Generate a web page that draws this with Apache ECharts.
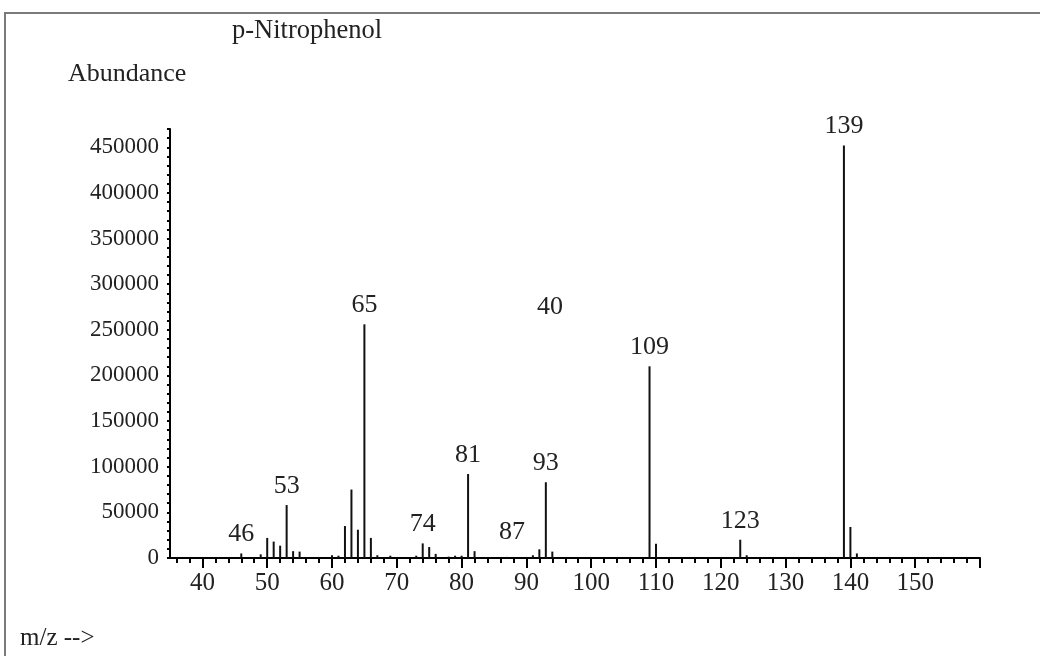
<!DOCTYPE html>
<html>
<head>
<meta charset="utf-8">
<script src="https://cdn.jsdelivr.net/npm/echarts@6/dist/echarts.min.js"></script>
<style>
  html, body { margin: 0; padding: 0; background: #fff; }
  #main { width: 1040px; height: 656px; }
</style>
</head>
<body>
<div id="main"></div>
<script>
// m/z values and abundance
var mz = [46, 49, 50, 51, 52, 53, 54, 55, 60, 61, 62, 63, 64, 65, 66, 67, 69,
          73, 74, 75, 76, 78, 79, 80, 81, 82, 87, 91, 92, 93, 94,
          109, 110, 123, 124, 139, 140, 141];
var abundance = [5000, 4000, 22000, 18000, 13500, 58000, 7500, 7000, 3000, 2500, 35000, 75000, 31000, 256000, 22000, 3000, 2500,
                 2500, 16000, 12000, 4500, 1500, 2500, 2500, 92000, 7500, 1200, 3000, 9500, 83000, 7000,
                 210000, 15500, 20000, 3000, 452000, 34000, 5000];
var labelled = [46, 53, 65, 74, 81, 87, 93, 109, 123, 139];

var xLabels = [40, 50, 60, 70, 80, 90, 100, 110, 120, 130, 140, 150];
var xMajorTicks = [40, 50, 60, 70, 80, 90, 100, 110, 120, 130, 140, 150, 160];
var xMinorTicks = [];
for (var i = 36; i <= 158; i += 2) xMinorTicks.push(i);
var yLabels = [0, 50000, 100000, 150000, 200000, 250000, 300000, 350000, 400000, 450000];
var yTicks = [];
for (var j = 0; j <= 470000; j += 10000) yTicks.push(j);

var serif = '"Liberation Serif", "DejaVu Serif", serif';

var peaks = mz.map(function (m, k) {
    var item = { value: [m, abundance[k]] };
    if (labelled.indexOf(m) >= 0) {
        item.label = { show: true };
        if (m === 87) item.label.offset = [5, -6];
    }
    return item;
});

var chart = echarts.init(document.getElementById('main'));
var option = {
    animation: false,
    backgroundColor: '#fff',
    grid: { left: 170, right: 60, top: 129, bottom: 98 },
    graphic: [
        { type: 'rect', shape: { x: 5, y: 13, width: 1200, height: 800 },
          style: { fill: 'none', stroke: '#7a7a7a', lineWidth: 2 } },
        { type: 'text', left: 232, top: 18,
          style: { text: 'p-Nitrophenol', font: '26.5px ' + serif, fill: '#222' } },
        { type: 'text', left: 68, top: 61,
          style: { text: 'Abundance', font: '26px ' + serif, fill: '#222' } },
        { type: 'text', left: 20, top: 626,
          style: { text: 'm/z -->', font: '25px ' + serif, fill: '#222' } },
        { type: 'text', left: 537, top: 294,
          style: { text: '40', font: '26px ' + serif, fill: '#222' } }
    ],
    xAxis: [
        {
            type: 'value', min: 35, max: 160, position: 'bottom',
            axisLine: { onZero: false, lineStyle: { color: '#000', width: 2 } },
            axisTick: { show: true, length: 10, customValues: xMajorTicks, lineStyle: { color: '#000', width: 2 } },
            axisLabel: { customValues: xLabels, fontSize: 25, fontFamily: serif, color: '#222', margin: 13 },
            splitLine: { show: false }
        },
        {
            type: 'value', min: 35, max: 160, position: 'bottom',
            axisLine: { show: false },
            axisTick: { show: true, length: 5, customValues: xMinorTicks, lineStyle: { color: '#000', width: 2 } },
            axisLabel: { show: false },
            splitLine: { show: false }
        }
    ],
    yAxis: {
        type: 'value', min: 0, max: 470000,
        axisLine: { show: true, lineStyle: { color: '#000', width: 2 } },
        axisTick: { show: true, length: 3, customValues: yTicks, lineStyle: { color: '#000', width: 2 } },
        axisLabel: {
            customValues: yLabels, fontSize: 23, fontFamily: serif, color: '#222', margin: 11,
            formatter: function (v) { return String(v); }
        },
        splitLine: { show: false }
    },
    series: [{
        type: 'bar',
        xAxisIndex: 0,
        barWidth: 2,
        itemStyle: { color: '#111' },
        label: {
            show: false, position: 'top', distance: 6,
            fontSize: 26, fontFamily: serif, color: '#222',
            formatter: function (p) { return p.value[0]; }
        },
        data: peaks
    }]
};
chart.setOption(option);
</script>
</body>
</html>
